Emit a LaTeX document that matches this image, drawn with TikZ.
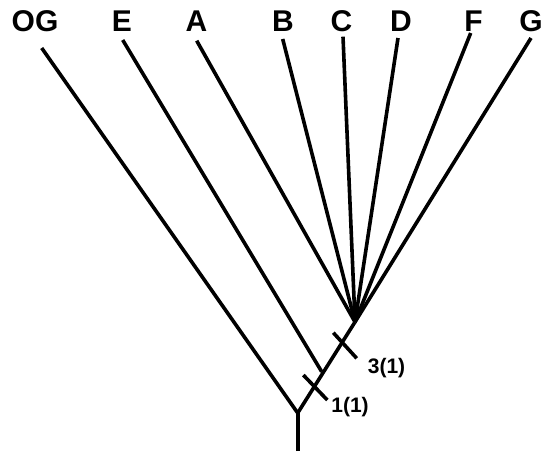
\documentclass[tikz,border=0pt]{standalone}
\usepackage{fontspec}
\setmainfont{Liberation Sans}
\begin{document}
\begin{tikzpicture}[x=1pt,y=-1pt,
  taxon/.style={inner sep=0pt,font=\fontsize{30}{30}\selectfont\bfseries},
  steplabel/.style={inner sep=0pt,font=\fontsize{21}{21}\selectfont\bfseries},
  branch/.style={line width=3.6pt,line cap=butt},
  tick/.style={line width=3.6pt}]
\useasboundingbox (0,0) rectangle (543,453);
% taxon labels
\node[taxon] (OG) at (35,21) {OG};
\node[taxon] (E) at (122,21) {E};
\node[taxon] (A) at (196.5,21) {A};
\node[taxon] (B) at (283,21) {B};
\node[taxon] (C) at (341.5,21) {C};
\node[taxon] (D) at (401,21) {D};
\node[taxon] (F) at (473.5,21) {F};
\node[taxon] (G) at (531,21) {G};
% branch ends
\coordinate (tOG) at (41.7,48);
\coordinate (tE) at (122.7,40);
\coordinate (tA) at (196.7,40.7);
\coordinate (tB) at (282.7,39);
\coordinate (tC) at (343,36.7);
\coordinate (tD) at (398,38);
\coordinate (tF) at (470.7,33);
\coordinate (tG) at (531,38);
% internal nodes
\coordinate (base) at (297.7,451);
\coordinate (root) at (297.7,413);
\coordinate (join) at (321.7,371.7);
\coordinate (hub) at (355,322);
% branches
\draw[branch] (base) -- (root);
\draw[branch] (tOG) -- (root);
\draw[branch] (root) -- (hub);
\draw[branch] (tE) -- (join);
\foreach \t in {tA,tB,tC,tD,tF,tG} \draw[branch] (\t) -- (hub);
% character-state ticks
\coordinate (k1a) at (303.3,375);
\coordinate (k1b) at (327.3,400);
\coordinate (k2a) at (333.3,332.7);
\coordinate (k2b) at (356.7,358.3);
\draw[tick] (k1a) -- (k1b);
\draw[tick] (k2a) -- (k2b);
\node[steplabel] (L1) at (350,407) {1(1)};
\node[steplabel] (L3) at (386.5,368.5) {3(1)};
\end{tikzpicture}
\end{document}
